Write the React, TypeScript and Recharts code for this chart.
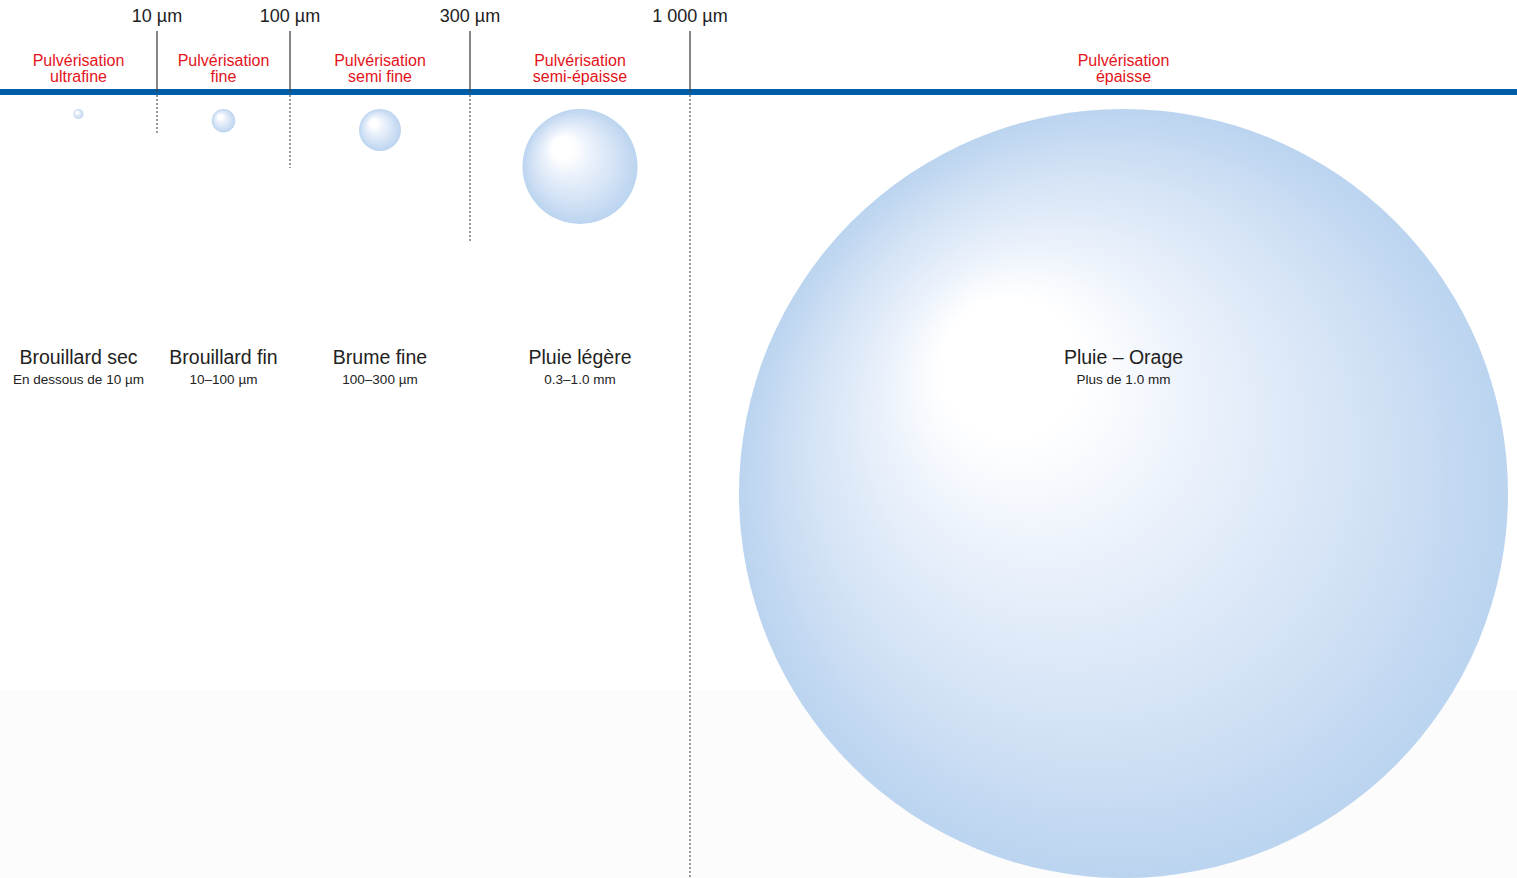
import React from 'react';
import { ComposedChart, XAxis, YAxis, ReferenceArea, ReferenceLine, Scatter } from 'recharts';

// ---------- data ----------
const categories = ['Brouillard sec', 'Brouillard fin', 'Brume fine', 'Pluie légère', 'Pluie – Orage'];
const rangeLabels = ['En dessous de 10 µm', '10–100 µm', '100–300 µm', '0.3–1.0 mm', 'Plus de 1.0 mm'];
const sprayLabels = [
  'Pulvérisation ultrafine',
  'Pulvérisation fine',
  'Pulvérisation semi fine',
  'Pulvérisation semi-épaisse',
  'Pulvérisation épaisse',
];
const boundariesUm = [10, 100, 300, 1000];
const boundaryLabels = ['10 µm', '100 µm', '300 µm', '1 000 µm'];
const classLowUm = [0, 10, 100, 300, 1000];
const classHighUm = [10, 100, 300, 1000, 5000];
// illustrative droplet diameters (drawing units on the vertical axis)
const dropletDiameter = [10, 23.5, 42, 115, 769];

// ---------- layout / style ----------
const CHART_W = 1557;
const CHART_H = 878;
const AXIS_H = 92;
const PLOT_H = CHART_H - AXIS_H;
const COLUMN_WEIGHTS = [157, 133, 180, 220, 867];
const BUBBLE_GAP = 17;
const NAME_ROW = 272;
const DIVIDER_DEPTH = [41, 76, 151, PLOT_H];
const FONT = '"Liberation Sans", Arial, Helvetica, sans-serif';
const RED = '#E3131B';
const BLUE = '#005DA8';
const TEXT = '#222222';

// piecewise size axis: each size class gets its own column on a 0..1 display axis
const sizeStops = [classLowUm[0], ...boundariesUm, classHighUm[classHighUm.length - 1]];
const weightSum = COLUMN_WEIGHTS.reduce((a, b) => a + b, 0);
const axisStops = COLUMN_WEIGHTS.reduce(
  (acc: number[], w) => [...acc, acc[acc.length - 1] + w / weightSum],
  [0]
);
function sizeToAxis(um: number): number {
  for (let i = 1; i < sizeStops.length; i++) {
    if (um <= sizeStops[i]) {
      const t = (um - sizeStops[i - 1]) / (sizeStops[i] - sizeStops[i - 1]);
      return axisStops[i - 1] + t * (axisStops[i] - axisStops[i - 1]);
    }
  }
  return 1;
}
const boundaryTicks = boundariesUm.map(sizeToAxis);

const rows = categories.map((name, i) => ({
  name,
  range: rangeLabels[i],
  spray: sprayLabels[i],
  lo: sizeToAxis(classLowUm[i]),
  hi: sizeToAxis(classHighUm[i]),
  mid: (sizeToAxis(classLowUm[i]) + sizeToAxis(classHighUm[i])) / 2,
  row: NAME_ROW,
}));

const Bubble = (props: any) => {
  const { x, y, width, height } = props;
  if (![x, y, width, height].every((v) => Number.isFinite(v))) return null;
  const r = Math.abs(height) / 2;
  return <circle cx={x + width / 2} cy={y + r} r={r} fill="url(#dropGradient)" />;
};

const ClassLabel = (props: any) => {
  const { cx, cy, payload } = props;
  if (!Number.isFinite(cx) || !Number.isFinite(cy) || !payload) return null;
  const words = String(payload.spray).split(' ');
  const first = words[0];
  const rest = words.slice(1).join(' ');
  const top = cy - NAME_ROW; // plot top
  return (
    <g fontFamily={FONT} textAnchor="middle">
      <text x={cx} y={top - 26.3} fontSize={16} fill={RED}>{first}</text>
      <text x={cx} y={top - 9.7} fontSize={16} fill={RED}>{rest}</text>
      <text x={cx} y={cy} fontSize={19.5} fill={TEXT}>{payload.name}</text>
      <text x={cx} y={cy + 19.5} fontSize={13.5} fill={TEXT}>{payload.range}</text>
    </g>
  );
};

export default function App() {
  return (
    <div style={{ position: 'absolute', left: 0, top: 0, width: 1517, height: 878, overflow: 'hidden', background: '#fff' }}>
      <ComposedChart
        width={CHART_W}
        height={CHART_H}
        data={rows}
        margin={{ top: 0, right: 0, bottom: 0, left: 0 }}
        style={{ fontFamily: FONT }}
      >
        <defs>
          <radialGradient id="dropGradient" cx="0.5" cy="0.5" r="0.5" fx="0.32" fy="0.3">
            <stop offset="0" stopColor="#ffffff" />
            <stop offset="0.18" stopColor="#ffffff" />
            <stop offset="0.42" stopColor="#eaf1fb" />
            <stop offset="0.75" stopColor="#d1e1f5" />
            <stop offset="1" stopColor="#bbd4ef" />
          </radialGradient>
        </defs>
        <XAxis
          dataKey="mid"
          type="number"
          orientation="top"
          domain={[0, 1]}
          ticks={boundaryTicks}
          interval={0}
          tickFormatter={(v: number, idx: number) => boundaryLabels[idx]}
          height={AXIS_H}
          tickSize={61}
          tickMargin={9}
          tick={{ fill: TEXT, fontSize: 18, fontFamily: FONT }}
          tickLine={{ stroke: '#444', strokeWidth: 1.3 }}
          axisLine={{ stroke: BLUE, strokeWidth: 6 }}
        />
        <YAxis dataKey="row" type="number" hide reversed domain={[0, PLOT_H]} />
        <ReferenceArea
          x1={0}
          x2={1}
          y1={598}
          y2={PLOT_H}
          ifOverflow="visible"
          fill="#fcfcfc"
          fillOpacity={1}
          stroke="none"
        />
        {boundaryTicks.map((b, i) => (
          <ReferenceLine
            key={`div-${i}`}
            ifOverflow="visible"
            segment={[
              { x: b, y: 3 },
              { x: b, y: DIVIDER_DEPTH[i] },
            ]}
            stroke="#555"
            strokeWidth={1.2}
            strokeDasharray="2 2"
          />
        ))}
        {rows.map((r, i) => (
          <ReferenceArea
            key={`bubble-${i}`}
            x1={r.lo}
            x2={r.hi}
            y1={BUBBLE_GAP}
            y2={BUBBLE_GAP + dropletDiameter[i]}
            ifOverflow="visible"
            shape={Bubble}
          />
        ))}
        <Scatter dataKey="row" shape={ClassLabel} isAnimationActive={false} />
      </ComposedChart>
    </div>
  );
}
